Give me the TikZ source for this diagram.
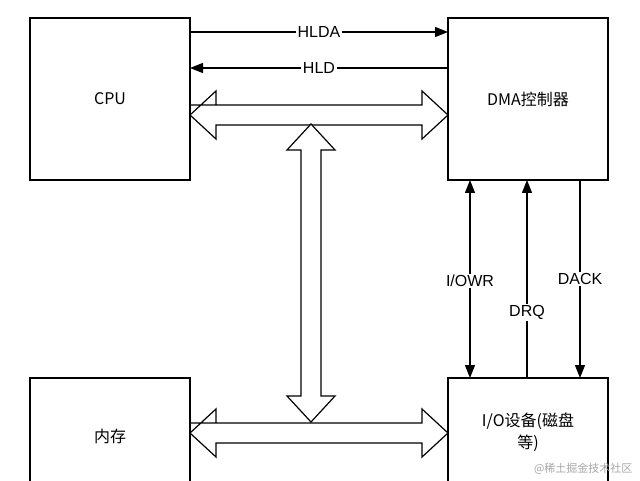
\documentclass[tikz,border=0pt]{standalone}
\usepackage{fontspec}
\setmainfont{Liberation Sans}
\newfontfamily\cjk{Noto Sans CJK SC}
\usetikzlibrary{arrows.meta,positioning}
\tikzset{
  box/.style={draw,line width=1.2pt,minimum width=160pt,minimum height=162pt},
  txt/.style={font=\cjk\fontsize{16}{22}\selectfont,align=center},
  sig/.style={line width=1.2pt,-{Triangle[length=13pt,width=10pt]}},
  lbl/.style={fill=white,inner sep=1.5pt,font=\fontsize{16}{18}\selectfont},
  fat/.style={draw,line width=1.2pt,fill=white,line join=miter}
}
% double arrow outline: (x1,y) to (x2,y) horizontal
\newcommand{\hdouble}[3]{%
  \draw[fat] (#1,#3-10) -- (#2-26,#3-10) -- (#2-26,#3-24) -- (#2,#3) -- (#2-26,#3+24) -- (#2-26,#3+10)
    -- (#1+26,#3+10) -- (#1+26,#3+24) -- (#1,#3) -- (#1+26,#3-24) -- (#1+26,#3-10) -- cycle;}
\newcommand{\vdouble}[3]{%
  \draw[fat] (#3-10,#1+26) -- (#3-24,#1+26) -- (#3,#1) -- (#3+24,#1+26) -- (#3+10,#1+26)
    -- (#3+10,#2-26) -- (#3+24,#2-26) -- (#3,#2) -- (#3-24,#2-26) -- (#3-10,#2-26) -- cycle;}
\begin{document}
\begin{tikzpicture}[x=1pt,y=-1pt]
  \useasboundingbox (0,0) rectangle (640,481);
  \node[box] (cpu) at (110,99) {};
  \node[box] (dma) at (528,99) {};
  \node[box] (mem) at (110,459) {};
  \node[box] (io) at (528,459) {};
  \node[txt] (cpuT) at (cpu) {CPU};
  \node[txt] (dmaT) at (dma) {DMA控制器};
  \node[txt] (memT) at (110,436) {内存};
  \node[txt] (ioT) at (528,432) {I/O设备(磁盘\\等)};
  % signals
  \draw[sig] (190,32) -- node[lbl] {HLDA} (448,32);
  \draw[sig] (448,68) -- node[lbl] {HLD} (190,68);
  \draw[sig,{Triangle[length=13pt,width=10pt]}-{Triangle[length=13pt,width=10pt]}] (470,180) -- node[lbl,pos=0.51] {I/OWR} (470,378);
  \draw[sig] (527,378) -- node[lbl,pos=0.33] {DRQ} (527,180);
  \draw[sig] (580,180) -- node[lbl,pos=0.5] {DACK} (580,378);
  % buses
  \hdouble{190}{448}{115}
  \hdouble{190}{448}{433}
  \vdouble{124}{422}{311}
  \node[text=gray!70,font=\cjk\fontsize{11}{13}\selectfont,anchor=south east] (wm) at (636,478) {@稀土掘金技术社区};
\end{tikzpicture}
\end{document}
